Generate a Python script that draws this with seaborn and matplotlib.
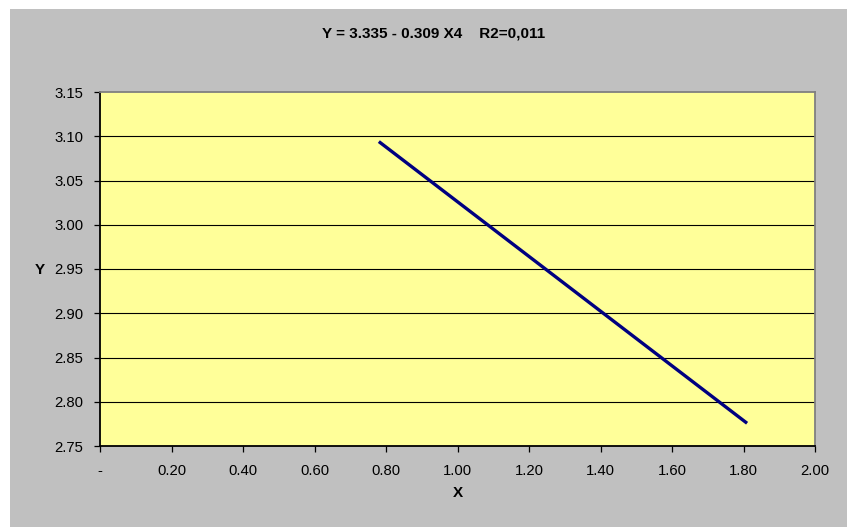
import matplotlib
matplotlib.use("Agg")
import matplotlib.pyplot as plt
from matplotlib.patches import Rectangle
from matplotlib.ticker import FixedLocator, FixedFormatter
import numpy as np
import pandas as pd
import seaborn as sns

# Fitted regression: Y = intercept + slope * X4, over the observed X range
intercept = 3.335
slope = -0.309
r2_label = "0,011"
x_range = [0.78, 1.81]

x_ticks = [0.0, 0.2, 0.4, 0.6, 0.8, 1.0, 1.2, 1.4, 1.6, 1.8, 2.0]
x_tick_labels = ["-", "0.20", "0.40", "0.60", "0.80", "1.00", "1.20", "1.40", "1.60", "1.80", "2.00"]
y_ticks = [2.75, 2.80, 2.85, 2.90, 2.95, 3.00, 3.05, 3.10, 3.15]

df = pd.DataFrame({"X": x_range})
df["Y"] = intercept + slope * df["X"]

sns.set_theme(style="white")
plt.rcParams["font.family"] = ["Liberation Sans", "DejaVu Sans"]

W, H = 847, 527
fig = plt.figure(figsize=(W / 100, H / 100), dpi=100, facecolor="white")

# grey chart area, kept behind the axes
fig.patches.append(Rectangle((10 / W, 0), 1 - 10 / W, 1 - 9 / H,
                             transform=fig.transFigure, facecolor="#C0C0C0",
                             edgecolor="none", zorder=-10))

left, right, top, bottom = 100, 815, 92, 446
ax = fig.add_axes([left / W, 1 - bottom / H, (right - left) / W, (bottom - top) / H])
ax.set_zorder(5)
ax.set_facecolor("#FFFF99")

sns.lineplot(data=df, x="X", y="Y", ax=ax, color="#000080", linewidth=2.4,
             solid_capstyle="butt", zorder=3)

ax.set_xlim(0, 2.0)
ax.set_ylim(2.75, 3.15)
ax.xaxis.set_major_locator(FixedLocator(x_ticks))
ax.xaxis.set_major_formatter(FixedFormatter(x_tick_labels))
ax.set_yticks(y_ticks)
ax.set_yticklabels([f"{v:.2f}" for v in y_ticks])

for v in y_ticks[1:-1]:
    ax.axhline(v, color="black", linewidth=0.8, zorder=1)

ax.tick_params(axis="both", which="major", direction="out", length=4, width=0.9,
               color="black", labelsize=10.7, labelcolor="black", pad=8,
               bottom=True, left=True)
ax.tick_params(axis="x", pad=9)

for side in ("left", "bottom"):
    ax.spines[side].set_color("black")
    ax.spines[side].set_linewidth(1.3)
for side in ("top", "right"):
    ax.spines[side].set_color("#808080")
    ax.spines[side].set_linewidth(1.3)

ax.set_xlabel("")
ax.set_ylabel("")

fig.text(434 / W, 1 - 33 / H, f"Y = {intercept:.3f} - {abs(slope):.3f} X4    R2={r2_label}",
         ha="center", va="center", fontsize=11, fontweight="bold", color="black")
fig.text(458 / W, 1 - 493 / H, "X", ha="center", va="center", fontsize=11,
         fontweight="bold", color="black")
fig.text(40 / W, 1 - 270 / H, "Y", ha="center", va="center", fontsize=11,
         fontweight="bold", color="black")

fig.savefig("out.png", dpi=100, facecolor="white")
